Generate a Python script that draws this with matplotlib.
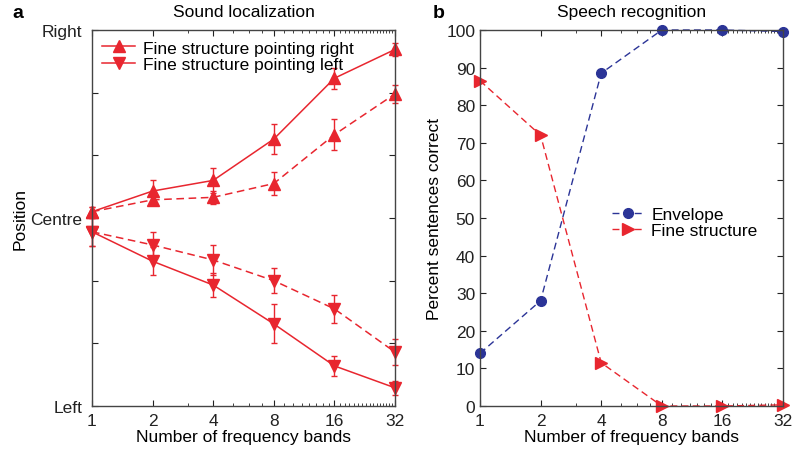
import matplotlib
matplotlib.use("Agg")
import matplotlib.pyplot as plt
import numpy as np
from matplotlib.ticker import FixedLocator, NullFormatter
from matplotlib.lines import Line2D

plt.rcParams['font.family'] = ['Liberation Sans', 'DejaVu Sans']

bands = [1, 2, 4, 8, 16, 32]
band_labels = ['1', '2', '4', '8', '16', '32']

# Panel a: sound localization (position, -3 = Left, 3 = Right)
right_solid = [0.10, 0.43, 0.60, 1.26, 2.23, 2.69]
right_solid_err = [0.08, 0.18, 0.20, 0.24, 0.17, 0.10]
right_dashed = [0.10, 0.29, 0.33, 0.55, 1.33, 1.98]
right_dashed_err = [0.08, 0.09, 0.10, 0.18, 0.25, 0.15]
left_solid = [-0.22, -0.69, -1.07, -1.69, -2.36, -2.71]
left_solid_err = [0.22, 0.22, 0.19, 0.31, 0.16, 0.11]
left_dashed = [-0.22, -0.43, -0.67, -1.00, -1.45, -2.14]
left_dashed_err = [0.22, 0.20, 0.24, 0.20, 0.22, 0.21]

# Panel b: speech recognition (%)
envelope = [14, 28, 88.5, 100, 100, 99.6]
fine_structure = [86.5, 72, 11.5, 0, 0, 0.3]

red = '#e8262f'
blue = '#2b3497'
fs = 12.5

fig = plt.figure(figsize=(8, 4.52), dpi=100)
W, H = 800, 452
axa = fig.add_axes([92 / W, 1 - 407 / H, (395 - 92) / W, (407 - 31) / H])
axb = fig.add_axes([480 / W, 1 - 407 / H, (783 - 480) / W, (407 - 31) / H])

minor = [3, 5, 6, 7] + list(range(9, 16)) + list(range(17, 32))

for ax in (axa, axb):
    ax.set_xscale('log', base=2)
    ax.set_xlim(1, 32)
    ax.xaxis.set_major_locator(FixedLocator(bands))
    ax.set_xticklabels(band_labels)
    ax.xaxis.set_minor_locator(FixedLocator(minor))
    ax.xaxis.set_minor_formatter(NullFormatter())
    ax.tick_params(which='both', direction='in', top=True, right=True,
                   labelsize=fs, colors='#222222')
    ax.tick_params(which='major', length=4, width=0.8)
    ax.tick_params(which='minor', length=2, width=0.6)
    ax.tick_params(axis='x', which='major', pad=5)
    for s in ax.spines.values():
        s.set_color('#444444')
        s.set_linewidth(1.0)
    ax.set_xlabel('Number of frequency bands', fontsize=fs, labelpad=1)

ekw = dict(elinewidth=1.0, capsize=2.5, capthick=1.0, ecolor=red)
axa.errorbar(bands, right_solid, yerr=right_solid_err, color=red, ls='-', lw=1.1,
             marker='^', ms=8, clip_on=False, **ekw)
axa.errorbar(bands, left_solid, yerr=left_solid_err, color=red, ls='-', lw=1.1,
             marker='v', ms=8, clip_on=False, **ekw)
axa.errorbar(bands, right_dashed, yerr=right_dashed_err, color=red, ls=(0, (5, 3)), lw=1.1,
             marker='^', ms=8, clip_on=False, **ekw)
axa.errorbar(bands, left_dashed, yerr=left_dashed_err, color=red, ls=(0, (5, 3)), lw=1.1,
             marker='v', ms=8, clip_on=False, **ekw)
axa.set_ylim(-3, 3)
axa.set_yticks([-3, -2, -1, 0, 1, 2, 3])
axa.set_yticklabels(['Left', '', '', 'Centre', '', '', 'Right'])
axa.tick_params(axis='y', which='major', pad=7)
axa.set_ylabel('Position', fontsize=fs, labelpad=2)
axa.set_title('Sound localization', fontsize=fs, pad=10)
handles_a = [Line2D([], [], color=red, lw=1.1, marker='^', ms=8),
             Line2D([], [], color=red, lw=1.1, marker='v', ms=8)]
axa.legend(handles_a, ['Fine structure pointing right', 'Fine structure pointing left'],
           loc='upper left', frameon=False, fontsize=fs, handlelength=1.9,
           borderaxespad=0.2, labelspacing=0.05, handletextpad=0.45)
fig.text(12 / W, 1 - 13 / H, 'a', fontsize=14, fontweight='bold', va='center')

axb.plot(bands, envelope, color=blue, ls=(0, (5, 3)), lw=1.0, marker='o', ms=7,
         label='Envelope', clip_on=False)
axb.plot(bands, fine_structure, color=red, ls=(0, (5, 3)), lw=1.0, marker='>', ms=8,
         label='Fine structure', clip_on=False)
axb.set_ylim(0, 100)
axb.set_yticks(range(0, 101, 10))
axb.set_ylabel('Percent sentences correct', fontsize=fs, labelpad=3)
axb.set_title('Speech recognition', fontsize=fs, pad=10)
axb.legend(loc='center left', bbox_to_anchor=(0.385, 0.487), frameon=False, fontsize=fs,
           handlelength=1.8, labelspacing=0.05, handletextpad=0.45)
fig.text(433 / W, 1 - 13 / H, 'b', fontsize=14, fontweight='bold', va='center')

fig.savefig('out.png', dpi=100)
